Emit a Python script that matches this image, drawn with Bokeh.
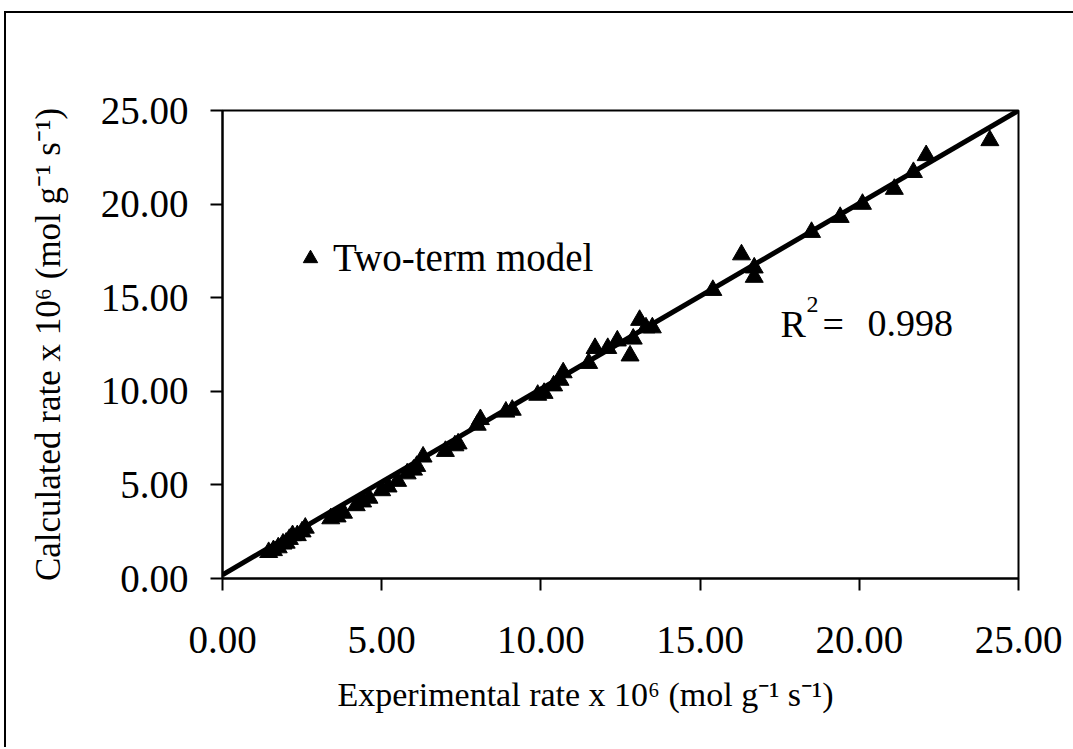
from bokeh.embed import file_html
from bokeh.models import Label, Legend, LegendItem, NumeralTickFormatter, Range1d, Title
from bokeh.plotting import figure
from bokeh.resources import INLINE

# Experimental vs. calculated rates (x 10^6 mol g^-1 s^-1), two-term model
experimental = [1.45, 1.6, 1.75, 1.9, 2.0, 2.1, 2.2, 2.35, 2.5, 2.6,
                3.4, 3.6, 3.8, 4.2, 4.4, 4.6, 5.0, 5.2, 5.5, 5.8, 6.0, 6.1, 6.3,
                7.0, 7.3, 7.4, 8.0, 8.1, 8.9, 9.1, 9.9, 10.1, 10.4, 10.6, 10.7,
                11.5, 11.7, 12.1, 12.4, 12.8, 12.9, 13.1, 13.3, 13.5,
                15.4, 16.3, 16.7, 16.7, 18.5, 19.4, 20.1, 21.1, 21.7, 22.1, 24.1]
calculated = [1.4, 1.5, 1.65, 1.85, 1.9, 2.1, 2.3, 2.3, 2.5, 2.7,
              3.2, 3.3, 3.5, 3.9, 4.1, 4.3, 4.7, 4.9, 5.2, 5.6, 5.8, 6.0, 6.5,
              6.8, 7.1, 7.2, 8.2, 8.5, 8.9, 9.0, 9.8, 9.9, 10.3, 10.6, 11.0,
              11.5, 12.3, 12.3, 12.7, 11.9, 12.8, 13.8, 13.4, 13.4,
              15.4, 17.3, 16.6, 16.1, 18.5, 19.3, 20.0, 20.8, 21.7, 22.6, 23.4]

# Least-squares parity line and its goodness of fit
fit_slope = 0.992
fit_intercept = 0.2
r_squared = 0.998

axis_ticks = [0, 5, 10, 15, 20, 25]
series_name = "Two-term model"
x_title = "Experimental rate x 10\u2076 (mol g\u207b\u00b9 s\u207b\u00b9)"
y_title = "Calculated rate x 10\u2076 (mol g\u207b\u00b9 s\u207b\u00b9)"

FONT = "Liberation Serif"

W, H = 1070, 736
p = figure(width=W, height=H, output_backend="svg", toolbar_location=None,
           x_range=Range1d(0, 25), y_range=Range1d(0, 25),
           min_border_left=216, min_border_right=58,
           min_border_top=97, min_border_bottom=171,
           margin=(11, 0, 0, 4))
# chart-area border: left and top edges only
p.styles = {"border-left": "2px solid black", "border-top": "2px solid black"}

p.background_fill_color = "white"
p.border_fill_color = "white"
p.outline_line_color = "black"
p.outline_line_width = 2
p.grid.visible = False

for ax in (p.xaxis[0], p.yaxis[0]):
    ax.ticker = axis_ticks
    ax.formatter = NumeralTickFormatter(format="0.00")
    ax.axis_line_width = 2
    ax.axis_line_color = "black"
    ax.major_tick_line_width = 2
    ax.major_tick_line_color = "black"
    ax.major_tick_in = 0
    ax.major_tick_out = 12
    ax.minor_tick_line_color = None
    ax.major_label_text_font = FONT
    ax.major_label_text_font_size = "39px"
    ax.major_label_text_color = "black"
p.xaxis.major_label_standoff = 36
p.yaxis.major_label_standoff = 22

p.yaxis.axis_label = y_title
p.yaxis.axis_label_text_font = FONT
p.yaxis.axis_label_text_font_size = "35px"
p.yaxis.axis_label_text_font_style = "normal"
p.yaxis.axis_label_text_color = "black"
p.yaxis.axis_label_standoff = 30

p.add_layout(Title(text=x_title, align="left", offset=115, standoff=37,
                   text_font=FONT, text_font_size="34px",
                   text_font_style="normal", text_color="black"), "below")

# parity fit line across the full axis span
fit_x = [0, 25]
fit_y = [fit_intercept + fit_slope * v for v in fit_x]
p.line(fit_x, fit_y, line_color="black", line_width=5)

pts = p.scatter(experimental, calculated, marker="triangle", size=18,
                fill_color="black", line_color="black")

legend = Legend(items=[LegendItem(label=series_name, renderers=[pts])],
                location=(70, 298), padding=0, margin=0, spacing=0,
                glyph_width=36, glyph_height=36, label_height=40,
                label_standoff=5, border_line_color=None,
                background_fill_alpha=0,
                label_text_font=FONT, label_text_font_size="39px",
                label_text_color="black")
p.add_layout(legend)

# frame origin in window pixels (label positions are frame-relative)
FX, FY = 222, 578


def r2_label(text, x, y, size):
    p.add_layout(Label(x=x - FX, y=FY - y, x_units="screen", y_units="screen",
                       text=text, text_font=FONT, text_font_size=f"{size}px",
                       text_color="black", text_align="left",
                       text_baseline="alphabetic"))


# coefficient of determination
r2_label("R", 780, 323, 38)
r2_label("2", 806, 304, 24)
r2_label("=", 822, 323, 38)
r2_label(f"{r_squared:.3f}", 867, 323, 38)

open("out.html", "w").write(file_html(p, INLINE))
